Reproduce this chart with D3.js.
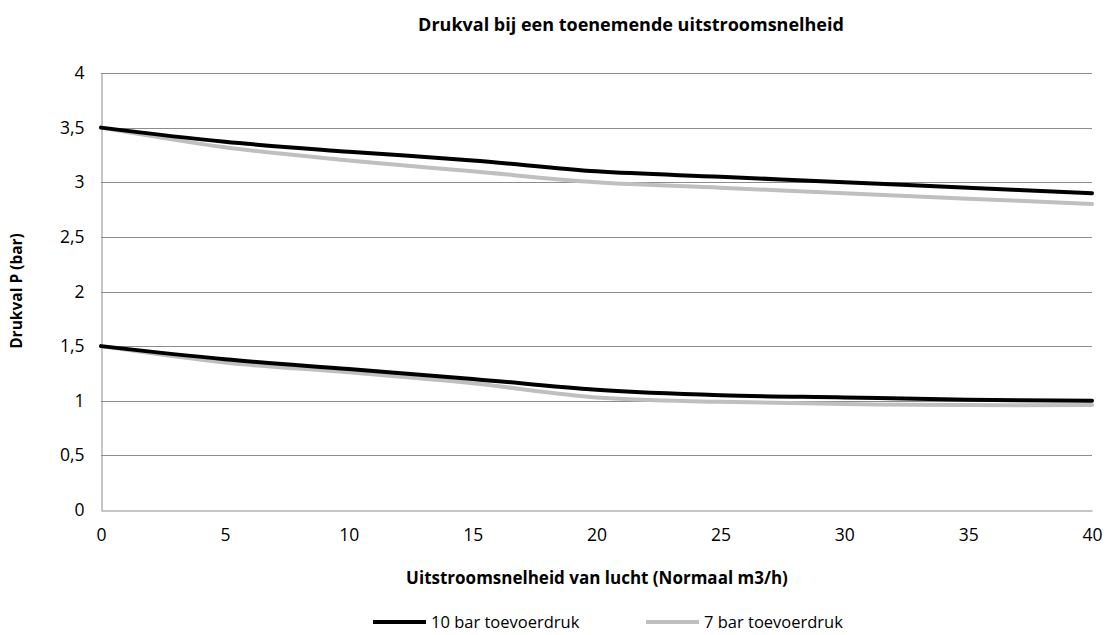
<!DOCTYPE html>
<html>
<head>
<meta charset="utf-8">
<script src="https://d3js.org/d3.v7.min.js"></script>
<style>
  body { margin: 0; background: #fff; }
  text { font-family: "Open Sans", sans-serif; fill: #000; }
</style>
</head>
<body>
<svg id="chart" width="1112" height="635"></svg>
<script>
// data
var flow = [0, 5, 10, 15, 20, 25, 30, 35, 40];
var bar10High = [3.5, 3.37, 3.28, 3.2, 3.1, 3.05, 3.0, 2.95, 2.9];
var bar10Low  = [1.5, 1.38, 1.29, 1.2, 1.1, 1.05, 1.03, 1.01, 1.0];
var bar7High  = [3.5, 3.32, 3.2, 3.1, 3.0, 2.95, 2.9, 2.85, 2.8];
var bar7Low   = [1.5, 1.35, 1.26, 1.16, 1.03, 0.99, 0.97, 0.96, 0.96];
var yTicks = [0, 0.5, 1, 1.5, 2, 2.5, 3, 3.5, 4];
var xTicks = [0, 5, 10, 15, 20, 25, 30, 35, 40];
var seriesNames = ["10 bar toevoerdruk", "7  bar toevoerdruk"];
var seriesColors = ["#000000", "#bfbfbf"];

var svg = d3.select("#chart");
// plot box (don't use "top", it clashes with window.top)
var mLeft = 101, mRight = 1092, mTop = 73, mBottom = 510;

var x = d3.scaleLinear().domain([0, 40]).range([mLeft, mRight]);
var y = d3.scaleLinear().domain([0, 4]).range([mBottom, mTop]);
var fmt = function (d) { return String(d).replace(".", ","); };

// gridlines
svg.append("g").selectAll("line")
    .data(yTicks.filter(function (d) { return d > 0; }))
    .enter().append("line")
    .attr("x1", mLeft).attr("x2", mRight)
    .attr("y1", function (d) { return Math.round(y(d)) + 0.5; })
    .attr("y2", function (d) { return Math.round(y(d)) + 0.5; })
    .attr("stroke", "#8c8c8c").attr("stroke-width", 1);

// axes
var yAxis = svg.append("g").attr("transform", "translate(" + (mLeft + 0.5) + ",0)")
    .call(d3.axisLeft(y).tickValues(yTicks).tickFormat(fmt).tickSize(0).tickPadding(17));
var xAxis = svg.append("g").attr("transform", "translate(0," + (mBottom + 0.5) + ")")
    .call(d3.axisBottom(x).tickValues(xTicks).tickFormat(fmt).tickSize(0).tickPadding(18));
[yAxis, xAxis].forEach(function (a) {
    a.attr("font-size", 17.5).attr("font-family", "'Open Sans', sans-serif");
    a.select(".domain").attr("stroke", "#8c8c8c");
    a.selectAll(".tick line").remove();
    a.selectAll("text").style("font-size", "17.5px");
});

// lines
var line = d3.line()
    .x(function (d, i) { return x(flow[i]); })
    .y(function (d) { return y(d); })
    .curve(d3.curveCatmullRom.alpha(0.5));

var lines = [
    { v: bar7High, c: seriesColors[1] },
    { v: bar7Low, c: seriesColors[1] },
    { v: bar10High, c: seriesColors[0] },
    { v: bar10Low, c: seriesColors[0] }
];
lines.forEach(function (s) {
    svg.append("path")
        .attr("d", line(s.v))
        .attr("fill", "none")
        .attr("stroke", s.c)
        .attr("stroke-width", 4)
        .attr("stroke-linecap", "round");
});

// titles
svg.append("text").attr("x", 631).attr("y", 31).attr("text-anchor", "middle")
    .style("font-size", "18px").style("font-weight", "bold")
    .text("Drukval bij een toenemende uitstroomsnelheid");
svg.append("text").attr("x", 597).attr("y", 584).attr("text-anchor", "middle")
    .style("font-size", "17px").style("font-weight", "bold")
    .text("Uitstroomsnelheid van lucht (Normaal m3/h)");
svg.append("text").attr("transform", "translate(22,291) rotate(-90)").attr("text-anchor", "middle")
    .style("font-size", "15.5px").style("font-weight", "bold")
    .text("Drukval P (bar)");

// legend
var legendX = [373, 646];
seriesNames.forEach(function (name, i) {
    var g = svg.append("g").attr("transform", "translate(" + legendX[i] + ",622)");
    g.append("line").attr("x1", 0).attr("x2", 53).attr("y1", 0).attr("y2", 0)
        .attr("stroke", seriesColors[i]).attr("stroke-width", 4);
    g.append("text").attr("x", 58).attr("y", 6)
        .style("font-size", "16.5px").text(name);
});
</script>
</body>
</html>
